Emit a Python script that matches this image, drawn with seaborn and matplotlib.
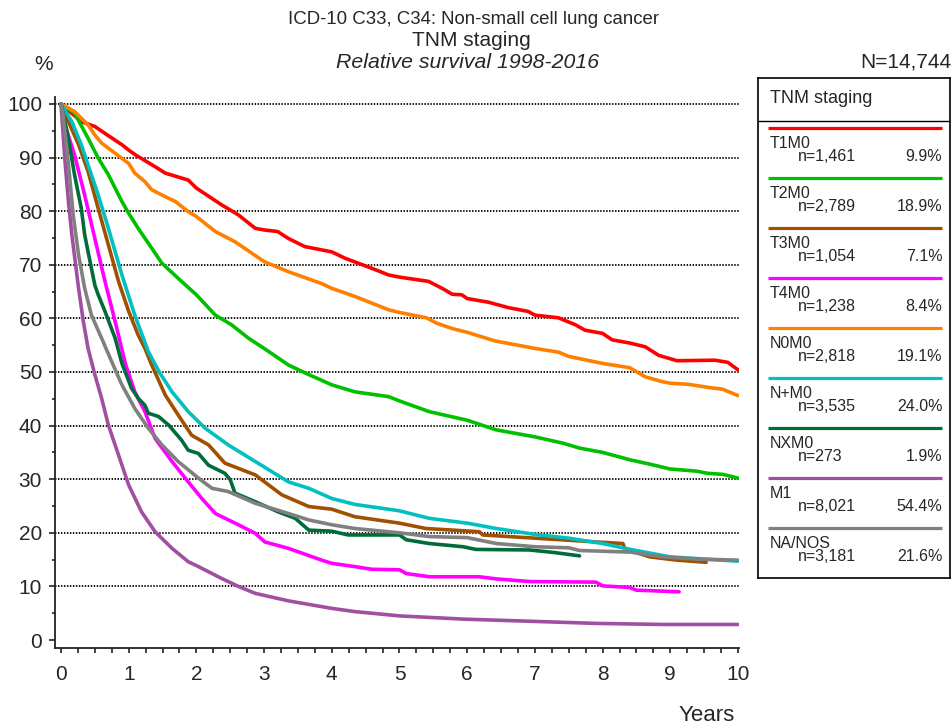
import numpy as np
import pandas as pd
import matplotlib
matplotlib.use("Agg")
import matplotlib.pyplot as plt
import seaborn as sns
from matplotlib.ticker import MultipleLocator

# ---------------- data ----------------
groups = ["T1M0", "T2M0", "T3M0", "T4M0", "N0M0", "N+M0", "NXM0", "M1", "NA/NOS"]
counts = ["n=1,461", "n=2,789", "n=1,054", "n=1,238", "n=2,818", "n=3,535", "n=273", "n=8,021", "n=3,181"]
shares = ["9.9%", "18.9%", "7.1%", "8.4%", "19.1%", "24.0%", "1.9%", "54.4%", "21.6%"]
colors = ["#FF0000", "#00C000", "#A05000", "#FF00FF", "#FF8000", "#00C0C0", "#006C3C", "#A050A0", "#808080"]

t1m0_t = [0, 0.3, 0.5, 0.65, 0.9, 1.0, 1.1, 1.39, 1.54, 1.88, 2.0, 2.37, 2.62, 2.87, 3.0, 3.2, 3.36, 3.6, 4.0,
          4.2, 4.6, 4.84, 5.0, 5.43, 5.63, 5.78, 5.92, 6.0, 6.32, 6.61, 6.9, 7.0, 7.35, 7.6, 7.74, 8.0, 8.14,
          8.4, 8.63, 8.83, 9.1, 9.66, 9.85, 10.0]
t1m0_v = [100, 96.7, 95.8, 94.5, 92.4, 91.4, 90.5, 88.3, 87.1, 85.8, 84.3, 81.2, 79.3, 76.8, 76.5, 76.2, 74.9,
          73.4, 72.4, 71.2, 69.3, 68.1, 67.7, 66.9, 65.6, 64.5, 64.4, 63.7, 63.0, 62.0, 61.3, 60.6, 60.1, 58.8,
          57.8, 57.2, 56.0, 55.4, 54.7, 53.1, 52.1, 52.2, 51.8, 50.4]

t2m0_t = [0, 0.2, 0.4, 0.55, 0.7, 0.9, 1.0, 1.14, 1.34, 1.49, 1.78, 2.0, 2.28, 2.52, 2.77, 3.0, 3.36, 3.61, 4.0,
          4.34, 4.84, 5.0, 5.44, 6.0, 6.43, 7.0, 7.42, 7.66, 8.0, 8.41, 8.7, 9.0, 9.39, 9.55, 9.78, 10.0]
t2m0_v = [100, 98.3, 93.6, 89.9, 86.8, 81.8, 79.6, 76.8, 73.1, 70.3, 66.9, 64.4, 60.6, 58.8, 56.3, 54.4, 51.3,
          49.8, 47.6, 46.3, 45.4, 44.6, 42.6, 41.0, 39.2, 37.9, 36.7, 35.8, 35.0, 33.6, 32.8, 31.9, 31.5, 31.1,
          30.9, 30.2]

t3m0_t = [0, 0.11, 0.26, 0.4, 0.55, 0.7, 0.85, 1.0, 1.14, 1.24, 1.34, 1.54, 1.73, 1.93, 2.18, 2.42, 2.87, 3.26,
          3.66, 4.0, 4.34, 5.0, 5.39, 6.18, 6.23, 7.0, 7.9, 8.3, 8.33, 8.5, 8.7, 9.1, 9.53]
t3m0_v = [100, 96.7, 92.4, 87.4, 80.5, 73.7, 66.9, 61.3, 56.9, 54.4, 51.3, 45.7, 42.0, 38.2, 36.4, 33.0, 30.8,
          27.1, 24.9, 24.4, 23.0, 21.8, 20.8, 20.2, 19.6, 19.0, 18.3, 18.0, 17.0, 16.3, 15.5, 14.9, 14.5]

t4m0_t = [0, 0.06, 0.2, 0.35, 0.5, 0.65, 0.8, 0.95, 1.09, 1.24, 1.39, 1.64, 1.88, 2.08, 2.28, 2.62, 2.87, 3.01,
          3.36, 3.85, 4.0, 4.34, 4.59, 5.0, 5.1, 5.44, 6.18, 6.43, 6.93, 7.9, 8.0, 8.4, 8.5, 9.13]
t4m0_v = [100, 96.0, 90.5, 83.0, 74.9, 66.9, 59.4, 51.6, 46.3, 42.6, 37.6, 33.3, 29.5, 26.4, 23.6, 21.5, 19.9,
          18.3, 17.1, 14.9, 14.3, 13.7, 13.2, 13.1, 12.4, 11.8, 11.8, 11.4, 10.9, 10.8, 10.1, 9.8, 9.3, 9.0]

n0m0_t = [0, 0.2, 0.4, 0.5, 0.6, 0.8, 1.0, 1.09, 1.24, 1.34, 1.54, 1.69, 1.88, 2.0, 2.28, 2.57, 3.0, 3.36,
          3.85, 4.0, 4.34, 4.84, 5.0, 5.4, 5.55, 5.78, 6.0, 6.41, 7.0, 7.35, 7.5, 8.0, 8.4, 8.63, 8.88, 9.0,
          9.27, 9.57, 9.77, 10.0]
n0m0_v = [100, 98.6, 96.1, 94.2, 92.7, 90.8, 88.9, 87.1, 85.5, 84.0, 82.7, 81.8, 79.9, 79.0, 76.2, 74.3, 70.6,
          68.7, 66.5, 65.6, 64.1, 61.6, 61.1, 60.1, 59.1, 58.1, 57.4, 55.8, 54.4, 53.7, 52.9, 51.6, 50.8, 49.1,
          48.2, 47.9, 47.7, 47.1, 46.8, 45.6]

npm0_t = [0, 0.16, 0.3, 0.4, 0.55, 0.7, 0.9, 1.09, 1.29, 1.46, 1.64, 1.88, 2.13, 2.47, 2.87, 3.36, 3.66, 4.0,
          4.34, 5.0, 5.44, 6.0, 6.43, 7.0, 7.5, 8.0, 8.41, 9.0, 9.39, 10.0]
npm0_v = [100, 96.7, 92.4, 88.6, 83.0, 76.8, 68.1, 60.6, 53.8, 49.8, 46.3, 42.6, 39.5, 36.4, 33.3, 29.5, 28.3,
          26.4, 25.3, 24.1, 22.7, 21.8, 20.8, 19.7, 19.0, 18.0, 16.9, 15.5, 15.2, 14.7]

nxm0_t = [0, 0.1, 0.2, 0.3, 0.35, 0.4, 0.5, 0.55, 0.65, 0.8, 0.9, 1.04, 1.14, 1.24, 1.29, 1.44, 1.59, 1.78, 1.88,
          2.03, 2.18, 2.42, 2.5, 2.57, 2.87, 3.21, 3.46, 3.66, 4.0, 4.24, 5.0, 5.1, 5.44, 5.94, 6.13, 6.92, 7.3,
          7.66]
nxm0_v = [100, 94.2, 86.8, 80.5, 75.6, 72.4, 66.2, 64.4, 61.3, 56.3, 51.6, 47.0, 45.1, 43.8, 42.3, 41.7, 40.1,
          37.3, 35.4, 34.8, 32.6, 31.1, 29.9, 27.4, 25.8, 23.9, 22.7, 20.5, 20.3, 19.6, 19.6, 18.7, 18.0, 17.4,
          16.9, 16.8, 16.3, 15.7]

m1_t = [0, 0.06, 0.11, 0.16, 0.21, 0.26, 0.33, 0.4, 0.5, 0.6, 0.7, 0.85, 1.0, 1.19, 1.39, 1.64, 1.88, 2.03,
        2.37, 2.62, 2.87, 3.36, 4.0, 4.34, 5.0, 5.94, 6.93, 7.9, 8.89, 10.0]
m1_v = [100, 89.2, 81.8, 75.6, 70.6, 65.6, 59.4, 54.4, 49.5, 45.1, 40.1, 34.5, 28.9, 23.9, 20.2, 17.1, 14.6,
        13.7, 11.5, 10.0, 8.7, 7.3, 5.9, 5.3, 4.5, 3.9, 3.5, 3.1, 2.9, 2.9]

nanos_t = [0, 0.03, 0.08, 0.13, 0.18, 0.26, 0.35, 0.45, 0.6, 0.75, 0.9, 1.09, 1.29, 1.49, 1.73, 2.03, 2.23, 2.47,
           2.87, 3.36, 3.66, 4.0, 4.34, 5.0, 5.44, 6.0, 6.43, 7.0, 7.5, 7.66, 8.41, 8.9, 9.39, 10.0]
nanos_v = [100, 98.0, 92.4, 86.1, 79.3, 71.8, 65.6, 60.6, 56.3, 51.9, 47.6, 43.2, 39.5, 36.4, 33.3, 30.2, 28.3,
           27.7, 25.5, 23.6, 22.4, 21.5, 20.8, 20.0, 19.3, 19.1, 18.0, 17.4, 17.2, 16.7, 16.4, 15.5, 15.1, 14.9]

series_t = [t1m0_t, t2m0_t, t3m0_t, t4m0_t, n0m0_t, npm0_t, nxm0_t, m1_t, nanos_t]
series_v = [t1m0_v, t2m0_v, t3m0_v, t4m0_v, n0m0_v, npm0_v, nxm0_v, m1_v, nanos_v]

y_ticks = list(range(0, 101, 10))
x_ticks = list(range(0, 11))

title1 = "ICD-10 C33, C34: Non-small cell lung cancer"
title2 = "TNM staging"
title3 = "Relative survival 1998-2016"
n_total = "N=14,744"

# ---------------- build table ----------------
frames = []
for g, tt, vv in zip(groups, series_t, series_v):
    frames.append(pd.DataFrame({"t": tt, "v": vv, "group": g}))
df = pd.concat(frames, ignore_index=True)
palette = dict(zip(groups, colors))

# ---------------- figure ----------------
sns.set_style("white")
plt.rcParams["font.family"] = ["Liberation Sans", "DejaVu Sans"]

W, H = 953, 728
fig = plt.figure(figsize=(W / 100, H / 100), dpi=100)

def fx(px):
    return px / W

def fy(py):
    return 1 - py / H

ax = fig.add_axes([fx(55), fy(648), fx(739) - fx(55), fy(97) - fy(648)])

for v in y_ticks[1:]:
    ax.axhline(v, color="black", lw=1.3, ls=(0, (0.8, 0.85)), zorder=1)

sns.lineplot(data=df, x="t", y="v", hue="group", hue_order=groups, palette=palette,
             estimator=None, sort=False, lw=2.6, legend=False, ax=ax, zorder=3)

ax.set_xlim(-0.0886, 10.015)
ax.set_ylim(-1.49, 101.3)
ax.set_xlabel("")
ax.set_ylabel("")
ax.set_yticks(y_ticks)
ax.set_xticks(x_ticks)
ax.yaxis.set_minor_locator(MultipleLocator(5))
ax.xaxis.set_minor_locator(MultipleLocator(0.25))
for s in ["top", "right"]:
    ax.spines[s].set_visible(False)
for s in ["left", "bottom"]:
    ax.spines[s].set_color("#222222")
    ax.spines[s].set_linewidth(1.3)
ax.tick_params(axis="y", which="major", left=True, length=4.3, width=1.2, color="#222222",
               labelsize=15, pad=5)
ax.tick_params(axis="y", which="minor", left=True, length=2.2, width=1.2, color="#222222")
ax.tick_params(axis="x", which="major", bottom=True, length=3.8, width=1.2, color="#222222",
               labelsize=15, pad=8.5)
ax.tick_params(axis="x", which="minor", bottom=True, length=3.6, width=1.2, color="#222222")
ax.set_facecolor("white")

# titles
fig.text(fx(473.8), fy(24), title1, ha="center", va="baseline", fontsize=13.4)
fig.text(fx(471.4), fy(45.5), title2, ha="center", va="baseline", fontsize=15)
fig.text(fx(467.5), fy(68.5), title3, ha="center", va="baseline", fontsize=15.3, style="italic")
fig.text(fx(44), fy(70), "%", ha="center", va="baseline", fontsize=15)
fig.text(fx(951), fy(68), n_total, ha="right", va="baseline", fontsize=15)
fig.text(fx(735), fy(721), "Years", ha="right", va="baseline", fontsize=16)

# legend box
L, R, T, B = 757.7, 950.0, 77.7, 577.7
lax = fig.add_axes([fx(L), fy(B), fx(R) - fx(L), fy(T) - fy(B)])
lax.set_xlim(L, R)
lax.set_ylim(B, T)
lax.set_xticks([])
lax.set_yticks([])
for s in lax.spines.values():
    s.set_visible(True)
    s.set_color("black")
    s.set_linewidth(1.2)
lax.text(770, 98.3, "TNM staging", ha="left", va="center", fontsize=13)
lax.axhline(120.7, color="black", lw=1.0)
for i, (g, c, n, p) in enumerate(zip(groups, colors, counts, shares)):
    yl = 127.7 + 50.0 * i
    lax.plot([768.3, 941.7], [yl, yl], color=c, lw=2.3, solid_capstyle="butt")
    lax.text(769.3, yl + 15.3, g, ha="left", va="center", fontsize=11.5)
    lax.text(798.3, yl + 29.0, n, ha="left", va="center", fontsize=11.5)
    lax.text(942.3, yl + 29.0, p, ha="right", va="center", fontsize=11.5)

fig.savefig("out.png", dpi=100, facecolor="white")
